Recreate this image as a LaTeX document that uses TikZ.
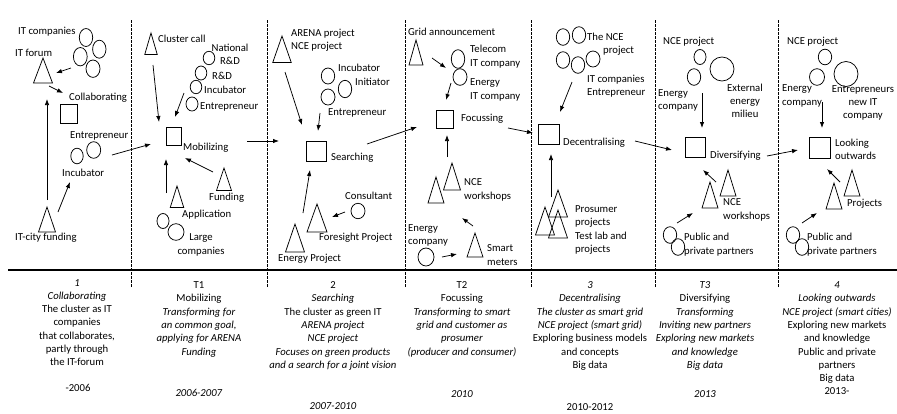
\documentclass[tikz,border=0pt]{standalone}
\usepackage{fontspec}
\setmainfont{Carlito}
\usetikzlibrary{arrows.meta,positioning}

\tikzset{
  lab/.style={inner sep=0pt, anchor=west, align=left},
  clab/.style={inner sep=0pt, align=center},
  phase/.style={inner sep=0pt, anchor=north, align=center},
  sq/.style={draw, line width=0.75pt, inner sep=0pt},
  flow/.style={line width=0.75pt, -{Latex[length=6pt,width=4.5pt]}},
  sep/.style={line width=0.6pt, dash pattern=on 2.5pt off 1.5pt},
}
% triangle: apex x, apex y, width, height
\newcommand\tri[4]{\draw[line width=0.75pt] (#1,#2) -- ++(-#3/2,#4) -- ++(#3,0) -- cycle;}
\newcommand\blob[4]{\draw[line width=0.75pt] (#1,#2) ellipse [x radius=#3, y radius=#4];}

\begin{document}
\begin{tikzpicture}[x=1pt,y=-1pt,font=\fontsize{10.7}{13.3}\selectfont]
  \useasboundingbox (0,0) rectangle (897,413);

  % time line and phase borders
  \draw[line width=2.8pt] (8,270) -- (897,270);
  \foreach \x in {131,267,405,531,655,778}
    \draw[sep] (\x,20) -- (\x,288);

  % phase squares
  \node[sq, minimum width=17pt, minimum height=19pt] (collab) at (68.5,113.5) {};
  \node[sq, minimum width=15pt, minimum height=18pt] (mobil) at (173.5,136) {};
  \node[sq, minimum width=20pt, minimum height=20pt] (search) at (316,151) {};
  \node[sq, minimum width=17pt, minimum height=18pt] (focus) at (444.5,119) {};
  \node[sq, minimum width=21pt, minimum height=20pt] (decent) at (548.5,134) {};
  \node[sq, minimum width=20pt, minimum height=20pt] (divers) at (695,147) {};
  \node[sq, minimum width=21pt, minimum height=21pt] (looking) at (819.5,147.5) {};

  % triangles
  \tri{43}{58}{19}{25}
  \tri{47}{207}{17}{25}
  \tri{151}{33}{12.5}{21.5}
  \tri{224}{168}{15}{22.5}
  \tri{177}{186}{13.5}{21.5}
  \tri{282}{36}{18.5}{26.5}
  \tri{317}{204}{20}{28}
  \tri{295}{224}{19}{28}
  \tri{416}{40}{14}{25}
  \tri{452}{163}{17}{27}
  \tri{436}{177}{16}{26}
  \tri{475}{233}{16}{24}
  \tri{558}{190}{19}{27}
  \tri{545}{207}{19}{28}
  \tri{558}{210}{19}{28}
  \tri{728}{170}{16}{26}
  \tri{710}{182}{16}{26}
  \tri{852}{170}{16}{26}
  \tri{834}{183}{16}{26}

  % actors
  \blob{86}{37.5}{6.7}{9}
  \blob{99.3}{49.2}{6.7}{9}
  \blob{80.3}{56.7}{6.9}{9.2}
  \blob{93}{68.7}{7}{8.7}
  \blob{93.7}{150}{7}{8.3}
  \blob{77}{156}{6.2}{7.8}
  \blob{209}{58}{5.8}{6.7}
  \blob{201}{73}{5.8}{7}
  \blob{196}{87}{5.8}{6.7}
  \blob{192}{104}{6}{7}
  \blob{163}{221}{6}{7.5}
  \blob{176}{232}{8}{8.3}
  \blob{328}{76}{6.7}{8}
  \blob{345}{89}{6.7}{8.7}
  \blob{328}{97}{7}{8}
  \blob{358}{211}{7}{7.7}
  \blob{458}{59}{6.7}{9.3}
  \blob{460}{77}{7}{8.3}
  \blob{426}{257}{8}{9}
  \blob{563}{37}{6.7}{8.3}
  \blob{579}{35}{6.7}{8.3}
  \blob{563}{60}{6.7}{8.3}
  \blob{578}{65}{6.7}{8.3}
  \blob{593}{59}{7}{8}
  \blob{700}{57}{6}{7.5}
  \blob{694}{77}{6.7}{8.3}
  \blob{722}{69}{12}{12}
  \blob{670}{235}{6.7}{8.3}
  \blob{678}{247}{6.7}{8.3}
  \blob{825}{57}{6.7}{7.8}
  \blob{817}{77}{7.5}{8.3}
  \blob{846}{74}{12}{12.5}
  \blob{793}{235}{6.7}{8.3}
  \blob{802}{247}{6.7}{8.3}

  % labels, phase 1
  \node[lab] (itcomp) at (18,32) {IT companies};
  \node[lab] (itforum) at (15,53) {IT forum};
  \node[lab] (lcollab) at (69,98) {Collaborating};
  \node[lab] (entr1) at (70,136) {Entrepreneur};
  \node[lab] (incub1) at (62,173) {Incubator};
  \node[lab] (itcity) at (15,238) {IT-city funding};
  % phase T1
  \node[lab] (cluster) at (158,39) {Cluster call};
  \node[clab] (natrd) at (230,54) {National\\R\&D};
  \node[lab] (rd) at (212,76) {R\&D};
  \node[lab] (incub2) at (204,90) {Incubator};
  \node[lab] (entr2) at (200,107) {Entrepreneur};
  \node[lab] (lmobil) at (183,148) {Mobilizing};
  \node[lab] (fund) at (209,198) {Funding};
  \node[lab] (appl) at (182,215) {Application};
  \node[clab] (large) at (201,245) {Large\\companies};
  % phase 2
  \node[lab] (arena) at (291,40.5) {ARENA project\\NCE project};
  \node[lab] (incub3) at (338,68) {Incubator};
  \node[lab] (init) at (355,82) {Initiator};
  \node[lab] (entr3) at (328,113) {Entrepreneur};
  \node[lab] (lsearch) at (331,158) {Searching};
  \node[lab] (consult) at (345,196) {Consultant};
  \node[lab] (foresight) at (319,238) {Foresight Project};
  \node[lab] (energyp) at (278,259) {Energy Project};
  % phase T2
  \node[lab] (grid) at (408,32) {Grid announcement};
  \node[lab] (telecom) at (470,56.5) {Telecom\\IT company};
  \node[lab] (energyit) at (470,90) {Energy\\IT company};
  \node[lab] (lfocus) at (461,119) {Focussing};
  \node[lab] (nce4) at (464,190) {NCE\\workshops};
  \node[lab] (energyc4) at (408,235.5) {Energy\\company};
  \node[lab] (smart) at (487,255) {Smart\\meters};
  % phase 3
  \node[lab] (ncep5) at (587,44.5) {The NCE\\\hspace*{16pt}project};
  \node[lab] (itcomp5) at (587,86) {IT companies\\Entrepreneur};
  \node[lab] (ldecent) at (563,143) {Decentralising};
  \node[lab] (prosumer) at (575,230) {Prosumer\\projects\\Test lab and\\projects};
  % phase T3
  \node[lab] (ncep6) at (663,42) {NCE project};
  \node[lab] (energyc6) at (658,100.5) {Energy\\company};
  \node[clab] (external) at (745,101) {External\\energy\\milieu};
  \node[lab] (ldivers) at (710,156) {Diversifying};
  \node[lab] (nce6) at (723,210) {NCE\\workshops};
  \node[lab] (pub6) at (684,244.5) {Public and\\private partners};
  % phase 4
  \node[lab] (ncep7) at (787,42) {NCE project};
  \node[lab] (energyc7) at (782,96) {Energy\\company};
  \node[clab] (entr7) at (863,103) {Entrepreneurs\\new IT\\company};
  \node[lab] (llooking) at (835,149) {Looking\\outwards};
  \node[lab] (projects) at (847,204) {Projects};
  \node[lab] (pub7) at (807,244.5) {Public and\\private partners};

  % arrow ends
  \foreach \n/\x/\y in {
    a1/71/68, b1/56/73, a2/49/86, b2/63/93, a3/47/200, b3/47/99,
    a4/58/212, b4/70/182, a5/112/155, b5/151/144,
    a6/153/65, b6/159/122, a7/184/93, b7/175/117, a8/247/141, b8/279/141,
    a9/213/172, b9/185/158, a10/166/193, b10/166/159,
    a11/285/72, b11/302/125, a12/320/113, b12/318/131, a13/367/144, b13/417/127,
    a14/303/213, b14/310/170, a15/345/212, b15/332/217,
    a16/432/58, b16/446/68, a17/451/83, b17/446/100, a18/508/128, b18/533/133,
    a19/447/157, b19/447/135, a20/473/226, b20/462/218, a21/442/257, b21/457/254,
    a22/572/82, b22/560/112, a23/551/197, b23/551/154, a24/635/141, b24/672/150,
    a25/702/93, b25/702/128, a26/716/182, b26/703/170, a27/677/223, b27/693/213,
    a28/767/156, b28/798/150,
    a29/822/102, b29/822/128, a30/840/182, b30/827/169, a31/802/223, b31/817/213}
    \coordinate (\n) at (\x,\y);
  \foreach \i in {1,...,31}
    \draw[flow] (a\i) -- (b\i);

  % phase descriptions
  \node[phase] (ph1) at (77,279) {\textit{1}\\\textit{Collaborating}\\The cluster as IT\\companies\\that collaborates,\\partly through\\the IT-forum};
  \node[phase] (pht1) at (199,281.5) {T1\\Mobilizing\\\textit{Transforming for}\\\textit{an common goal,}\\\textit{applying for ARENA}\\\textit{Funding}};
  \node[phase] (ph2) at (333,281.5) {2\\\textit{Searching}\\The cluster as green IT\\\textit{ARENA project}\\\textit{NCE project}\\\textit{Focuses on green products}\\\textit{and a search for a joint vision}};
  \node[phase] (pht2) at (462,281.5) {T2\\Focussing\\\textit{Transforming to smart}\\\textit{grid and customer as}\\\textit{prosumer}\\\textit{(producer and consumer)}};
  \node[phase] (ph3) at (590,281.5) {\textit{3}\\\textit{Decentralising}\\\textit{The cluster as smart grid}\\\textit{NCE project (smart grid)}\\Exploring business models\\and concepts\\Big data};
  \node[phase] (pht3) at (705,281.5) {\textit{T3}\\Diversifying\\\textit{Transforming}\\\textit{Inviting new partners}\\\textit{Exploring new markets}\\\textit{and knowledge}\\\textit{Big data}};
  \node[phase] (ph4) at (837,281.5) {\textit{4}\\\textit{Looking outwards}\\\textit{NCE project (smart cities)}\\Exploring new markets\\and knowledge\\Public and private\\partners\\Big data\\2013-};

  % years
  \node[clab] (y1) at (78,388) {-2006};
  \node[clab] (yt1) at (199,393) {\textit{2006-2007}};
  \node[clab] (y2) at (333,406) {\textit{2007-2010}};
  \node[clab] (yt2) at (462,394) {\textit{2010}};
  \node[clab] (y3) at (590,407) {2010-2012};
  \node[clab] (yt3) at (705,394) {\textit{2013}};
\end{tikzpicture}
\end{document}
